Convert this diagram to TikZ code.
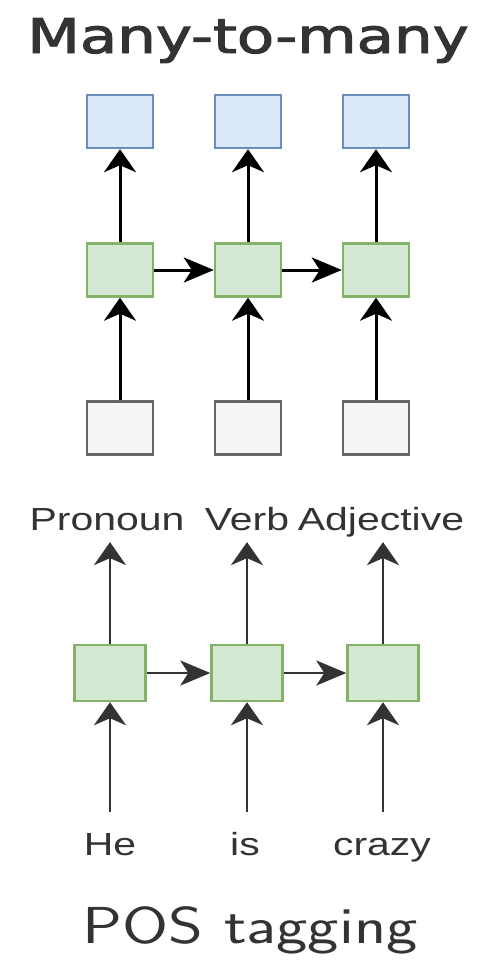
\documentclass[tikz,border=0pt]{standalone}
\usepackage{fontspec}
\setmainfont{Liberation Sans}
\newfontfamily\titlefont[FakeBold=2]{DejaVu Sans}
\usetikzlibrary{arrows.meta}
\definecolor{bluefill}{HTML}{DAE8FC}
\definecolor{blueline}{HTML}{6C8EBF}
\definecolor{greenfill}{HTML}{D5E8D4}
\definecolor{greenline}{HTML}{82B366}
\definecolor{grayfill}{HTML}{F5F5F5}
\definecolor{grayline}{HTML}{666666}
\definecolor{darktext}{HTML}{333333}
\begin{document}
\begin{tikzpicture}[
        x=1pt, y=-1pt,
        line width=2.2pt,
        text=darktext
    ]
    \tikzset{
        cell/.style = {rectangle, line width=2.4pt, minimum width=66pt, minimum height=53pt, inner sep=0pt},
        cellb/.style = {cell, draw=blueline, fill=bluefill},
        cellg/.style = {cell, draw=greenline, fill=greenfill},
        cellw/.style = {cell, draw=grayline, fill=grayfill},
        cellp/.style = {cell, draw=greenline, fill=greenfill, minimum width=71pt, minimum height=56pt},
        heading/.style = {anchor=base, inner sep=0pt},
        tag/.style = {anchor=base, xscale=1.28, font=\fontsize{32}{36}\selectfont,
            text height=23pt, text depth=7pt, inner xsep=0pt, inner ysep=4pt},
        word/.style = {anchor=base, xscale=1.28, font=\fontsize{32}{36}\selectfont,
            text height=23pt, text depth=7pt, inner xsep=0pt, inner ysep=19pt},
        edgek/.style = {-{Stealth[length=23pt, width=32pt, inset=7pt]}, black, line width=3pt},
        edgeh/.style = {-{Stealth[length=30pt, width=25pt, inset=8pt]}, black, line width=3pt},
        edged/.style = {-{Stealth[length=23pt, width=32pt, inset=7pt]}, darktext, line width=2.8pt},
        edgedh/.style = {-{Stealth[length=30pt, width=25pt, inset=8pt]}, darktext, line width=2.8pt},
    }
    \useasboundingbox (0,0) rectangle (486,972);
    % many-to-many
    \node[heading, xscale=1.27, font=\titlefont\fontsize{48}{52}\selectfont] at (248,53) (top) {Many-to-many};
    \node[cellb] at (120,121.5) (y1) {};
    \node[cellb] at (248,121.5) (y2) {};
    \node[cellb] at (376,121.5) (y3) {};
    \node[cellg] at (120,270) (h1) {};
    \node[cellg] at (248,270) (h2) {};
    \node[cellg] at (376,270) (h3) {};
    \node[cellw] at (120,428) (x1) {};
    \node[cellw] at (248,428) (x2) {};
    \node[cellw] at (376,428) (x3) {};
    %
    \draw[edgek] (x1) -- (h1);
    \draw[edgek] (x2) -- (h2);
    \draw[edgek] (x3) -- (h3);
    \draw[edgek] (h1) -- (y1);
    \draw[edgek] (h2) -- (y2);
    \draw[edgek] (h3) -- (y3);
    \draw[edgeh] (h1) -- (h2);
    \draw[edgeh] (h2) -- (h3);
    % POS tagging
    \node[tag] at (107,530) (pron) {Pronoun};
    \node[tag] at (247,530) (verb) {Verb};
    \node[tag] at (381,530) (adj) {Adjective};
    \node[cellp] at (110,673) (p1) {};
    \node[cellp] at (247,673) (p2) {};
    \node[cellp] at (383,673) (p3) {};
    \node[word] at (110,855) (he) {He};
    \node[word] at (245,855) (is) {is};
    \node[word] at (382,855) (crazy) {crazy};
    \node[heading, xscale=1.28, font=\sffamily\fontsize{52}{56}\selectfont] at (250,943) (bottom) {POS tagging};
    %
    \draw[edged] (he.north -| p1) -- (p1);
    \draw[edged] (is.north -| p2) -- (p2);
    \draw[edged] (crazy.north -| p3) -- (p3);
    \draw[edged] (p1) -- (p1 |- pron.south);
    \draw[edged] (p2) -- (p2 |- verb.south);
    \draw[edged] (p3) -- (p3 |- adj.south);
    \draw[edgedh] (p1) -- (p2);
    \draw[edgedh] (p2) -- (p3);
\end{tikzpicture}
\end{document}
